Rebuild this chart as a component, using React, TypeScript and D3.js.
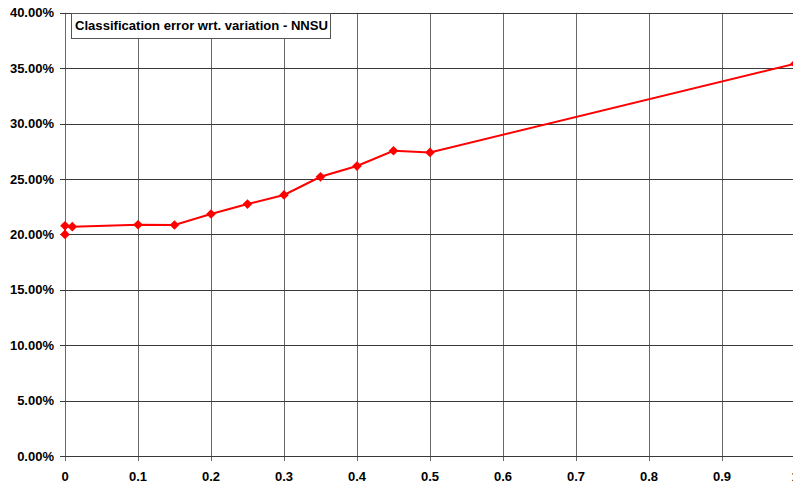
import React from "react";
import * as d3 from "d3";

const xValues = [0, 0, 0.01, 0.1, 0.15, 0.2, 0.25, 0.3, 0.35, 0.4, 0.45, 0.5, 1.0];
const yValues = [0.2, 0.2078, 0.207, 0.2087, 0.2085, 0.2184, 0.2274, 0.2356, 0.252, 0.2617, 0.2755, 0.274, 0.354];
const xTicks = [0, 0.1, 0.2, 0.3, 0.4, 0.5, 0.6, 0.7, 0.8, 0.9, 1];
const yTicks = [0, 0.05, 0.1, 0.15, 0.2, 0.25, 0.3, 0.35, 0.4];
const title = "Classification error wrt. variation - NNSU";

export default function App() {
  const W = 793, H = 487;
  const x = d3.scaleLinear().domain([0, 1]).range([65, 795]);
  const y = d3.scaleLinear().domain([0, 0.4]).range([456, 12.8]);
  const fmt = d3.format(".2%");
  const pts = xValues.map((v, i) => [x(v), y(yValues[i])] as [number, number]);
  const line = d3.line()(pts) || "";
  const diamond = d3.symbol().type(d3.symbolDiamond2).size(60)() || "";
  const font = "'Liberation Sans', Arial, sans-serif";
  return (
    <svg width={W} height={H} style={{ position: "absolute", left: 0, top: 0, background: "#fff" }}>
      <rect x={0} y={0} width={W} height={H} fill="#fff" />
      {xTicks.map((t) => (
        <line key={"vx" + t} x1={Math.round(x(t)) + 0.5} x2={Math.round(x(t)) + 0.5} y1={12.8} y2={461} stroke="#6a6a6a" strokeWidth={1} />
      ))}
      {yTicks.map((t) => (
        <line key={"hy" + t} x1={60} x2={W} y1={Math.round(y(t)) + 0.5} y2={Math.round(y(t)) + 0.5} stroke="#3a3a3a" strokeWidth={1} />
      ))}
      {yTicks.map((t) => (
        <text key={"yl" + t} x={54} y={y(t)} dy="0.35em" textAnchor="end" fontFamily={font} fontWeight="bold" fontSize={13} fill="#000">
          {fmt(t)}
        </text>
      ))}
      {xTicks.map((t) => (
        <text key={"xl" + t} x={x(t)} y={481} textAnchor="middle" fontFamily={font} fontWeight="bold" fontSize={13} fill="#000">
          {String(t)}
        </text>
      ))}
      <path d={line} fill="none" stroke="#ff0000" strokeWidth={2} />
      {pts.map((p, i) => (
        <path key={"m" + i} d={diamond} transform={`translate(${p[0]},${p[1]})`} fill="#ff0000" />
      ))}
      <rect x={71.5} y={13.5} width={259} height={25} fill="#fff" stroke="#555" strokeWidth={1} />
      <text x={75} y={30} fontFamily={font} fontWeight="bold" fontSize={12} fill="#000" textLength={253} lengthAdjust="spacingAndGlyphs">
        {title}
      </text>
    </svg>
  );
}
